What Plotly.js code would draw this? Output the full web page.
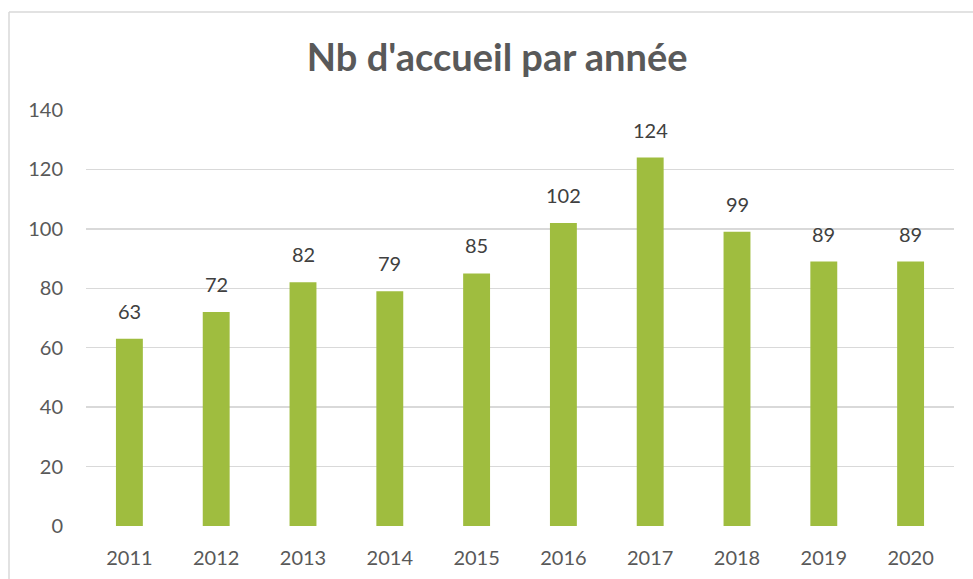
<!DOCTYPE html>
<html>
<head>
<meta charset="utf-8">
<script src="https://cdn.plot.ly/plotly-3.0.1.min.js"></script>
<style>html,body{margin:0;padding:0;background:#fff;}#chart{width:973px;height:579px;}</style>
</head>
<body>
<div id="chart"></div>
<script>
const years = ["2011","2012","2013","2014","2015","2016","2017","2018","2019","2020"];
const accueils = [63, 72, 82, 79, 85, 102, 124, 99, 89, 89];
const yTicks = [0, 20, 40, 60, 80, 100, 120, 140];

const labelFont = {family: "Lato, 'Open Sans', sans-serif", size: 20, color: "#404040"};

const trace = {
  type: "bar",
  x: years,
  y: accueils,
  marker: {color: "#9fbd3f"},
  width: 0.31,
  hoverinfo: "skip"
};

// category axis: annotation x given as category index
const labels = years.map((yr, i) => ({
  x: i, y: accueils[i], xref: "x", yref: "y",
  text: String(accueils[i]), showarrow: false,
  yanchor: "bottom", xanchor: "center", yshift: 14,
  font: labelFont
}));

const layout = {
  width: 973, height: 579,
  paper_bgcolor: "#ffffff", plot_bgcolor: "#ffffff",
  margin: {l: 86, r: 19, t: 110, b: 53},
  showlegend: false,
  title: {
    text: "<b>Nb d'accueil par année</b>",
    font: {family: "Lato, sans-serif", size: 38, color: "#595959"},
    x: 0.511, xanchor: "center", xref: "container",
    y: 0.9, yref: "container", yanchor: "middle",
    automargin: false
  },
  xaxis: {
    type: "category", categoryarray: years, categoryorder: "array",
    range: [-0.5, years.length - 0.5],
    showgrid: false, zeroline: false, showline: false,
    ticks: "", ticklabelstandoff: 18,
    tickfont: {family: "Lato, 'Open Sans', sans-serif", size: 20, color: "#595959"}
  },
  yaxis: {
    range: [0, 140], tickvals: yTicks, ticktext: yTicks.map(String),
    showgrid: true, gridcolor: "#d9d9d9", gridwidth: 1.5,
    zeroline: false, showline: false, ticks: "", ticklabelstandoff: 22,
    tickfont: {family: "Lato, 'Open Sans', sans-serif", size: 20, color: "#595959"}
  },
  annotations: labels,
  shapes: [
    {type: "line", xref: "paper", yref: "paper", xsizemode: "pixel", ysizemode: "pixel",
     xanchor: 0, yanchor: 0, x0: -77, x1: 900, y0: 514, y1: 514,
     line: {color: "#d9d9d9", width: 1.5}},
    {type: "line", xref: "paper", yref: "paper", xsizemode: "pixel", ysizemode: "pixel",
     xanchor: 0, yanchor: 0, x0: -77, x1: -77, y0: -60, y1: 514,
     line: {color: "#d9d9d9", width: 1.5}}
  ]
};

Plotly.newPlot("chart", [trace], layout, {displayModeBar: false, staticPlot: true});
</script>
</body>
</html>
